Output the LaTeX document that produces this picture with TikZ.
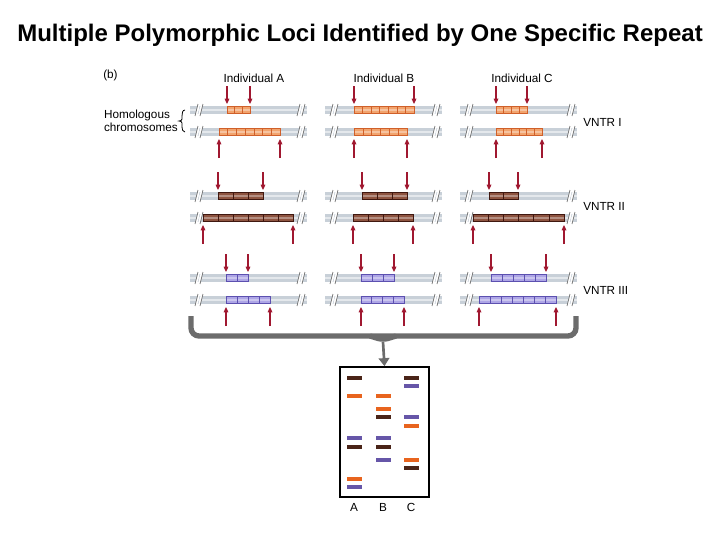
\documentclass[tikz,border=0pt]{standalone}
\usepackage{fontspec}
\setmainfont{Liberation Sans}
\usetikzlibrary{arrows.meta}
\definecolor{rarr}{HTML}{A01830}
\definecolor{barg}{HTML}{C8D0D8}
\definecolor{barl}{HTML}{E4E8EC}
\definecolor{oF}{HTML}{F2A46E}\definecolor{oD}{HTML}{D0602A}
\definecolor{bF}{HTML}{8E5440}\definecolor{bD}{HTML}{401810}
\definecolor{pF}{HTML}{AEA6E6}\definecolor{pD}{HTML}{5C50B0}
\definecolor{gO}{HTML}{E8641E}\definecolor{gB}{HTML}{4A2418}\definecolor{gP}{HTML}{6656A8}
\tikzset{lbl/.style={font=\fontsize{8.8}{10}\selectfont,inner sep=0pt},
 ra/.style={rarr,line width=0.8pt,-{Triangle[length=4pt,width=3.5pt]}}}
\newcommand{\chromo}[2]{% x0, y
 \fill[barg] (#1,#2-4) rectangle (#1+117,#2+4);
 \fill[barl] (#1,#2-1.5) rectangle (#1+117,#2+1);
 \foreach \bx in {#1+8,#1+110}{
  \draw[white,line width=1.5pt] (\bx-2,#2+6) -- (\bx+1,#2-6) (\bx+1,#2+6) -- (\bx+4,#2-6);
  \draw[gray!80!black,line width=0.5pt] (\bx-3,#2+6) -- (\bx,#2-6) (\bx+2,#2+6) -- (\bx+5,#2-6);}}
\newcommand{\rep}[6]{% x1,x2,y,n,fill,draw
 \fill[#5] (#1,#3-3.5) rectangle (#2,#3+3.5);
 \fill[white,opacity=0.35] (#1,#3-1) rectangle (#2,#3+0.5);
 \draw[#6,line width=0.6pt] (#1,#3-3.5) rectangle (#2,#3+3.5);
 \foreach \k in {1,...,#4}{\pgfmathsetmacro\xx{#1+(#2-#1)*\k/#4}\draw[#6,line width=0.5pt] (\xx,#3-3.5) -- (\xx,#3+3.5);}}
\newcommand{\locus}[7]{%
 \rep{#1}{#2}{#7}{#3}{\cF}{\cD}
 \rep{#4}{#5}{#7+22}{#6}{\cF}{\cD}
 \draw[ra] (#1,#7-24) -- (#1,#7-6); \draw[ra] (#2,#7-24) -- (#2,#7-6);
 \draw[ra] (#4,#7+48) -- (#4,#7+29); \draw[ra] (#5,#7+48) -- (#5,#7+29);}
\begin{document}
\begin{tikzpicture}[x=0.75pt,y=-0.75pt]
\useasboundingbox (0,0) rectangle (720,540);
\node[font=\bfseries\fontsize{18}{20}\selectfont] (title) at (360,35) {Multiple Polymorphic Loci Identified by One Specific Repeat};
\node[lbl,anchor=west] (b) at (103,75) {(b)};
\node[lbl] (iA) at (254,78) {Individual A};
\node[lbl] (iB) at (384,78) {Individual B};
\node[lbl] (iC) at (522,78) {Individual C};
\node[lbl,anchor=east,align=left] (hom) at (178,121) {Homologous\\chromosomes};
\draw[line width=0.6pt] (185,110) to[out=180,in=90] (182,116) -- (182,119) to[out=-90,in=0] (179,121) to[out=0,in=90] (182,123) -- (182,127) to[out=-90,in=180] (185,132);
\node[lbl,anchor=west] (v1) at (583,122) {VNTR I};
\node[lbl,anchor=west] (v2) at (583,206) {VNTR II};
\node[lbl,anchor=west] (v3) at (583,290) {VNTR III};
\foreach \y in {110,132,196,218,278,300}{\chromo{190}{\y}\chromo{325}{\y}\chromo{460}{\y}}
\def\cF{oF}\def\cD{oD}
\locus{227}{250}{3}{219}{280}{7}{110}
\locus{354}{414}{7}{354}{407}{6}{110}
\locus{496}{527}{4}{496}{542}{6}{110}
\def\cF{bF}\def\cD{bD}
\locus{218}{263}{3}{203}{293}{6}{196}
\locus{362}{407}{3}{353}{413}{4}{196}
\locus{489}{518}{2}{473}{564}{6}{196}
\def\cF{pF}\def\cD{pD}
\locus{226}{248}{2}{226}{270}{4}{278}
\locus{361}{394}{3}{361}{404}{4}{278}
\locus{491}{546}{5}{479}{556}{7}{278}
% bracket
\coordinate (bk) at (383,342);
\draw[gray!85!black,line width=4pt,rounded corners=6pt] (191,316) -- (191,336) -- (576,336) -- (576,316);
\draw[gray!85!black,line width=4pt,rounded corners=4pt] (370,336) -- (383,340) -- (396,336);
% gel
\node[draw,line width=1.3pt,minimum width=66.75pt,minimum height=97.5pt,inner sep=0pt] (gel) at (384.5,432) {};
\draw[gray!85!black,line width=2pt,-{Triangle[length=6pt,width=8pt]}] (bk) -- (gel.north);
\foreach \x/\y/\c in {354/378/gB,354/396/gO,354/438/gP,354/447/gB,354/479/gO,354/487/gP,
 383/396/gO,383/409/gO,383/417/gB,383/438/gP,383/447/gB,383/460/gP,
 411/378/gB,411/386/gP,411/417/gP,411/426/gO,411/460/gO,411/468/gB}
 \fill[\c] (\x-7.5,\y-2) rectangle (\x+7.5,\y+2.2);
\node[lbl] (lA) at (354,507) {A};
\node[lbl] (lB) at (383,507) {B};
\node[lbl] (lC) at (411,507) {C};
\end{tikzpicture}
\end{document}
